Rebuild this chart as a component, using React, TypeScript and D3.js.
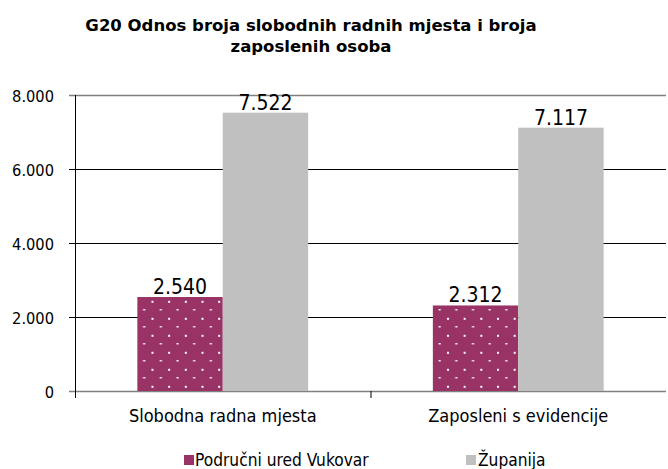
import React from 'react';
import { scaleBand, scaleLinear } from 'd3';

const categories = ['Slobodna radna mjesta', 'Zaposleni s evidencije'];
const seriesNames = ['Područni ured Vukovar', 'Županija'];
const vukovar = [2540, 2312];
const zupanija = [7522, 7117];
const yTicks = [0, 2000, 4000, 6000, 8000];

const W = 668;
const H = 469;
const margin = { top: 95, right: 2, bottom: 78, left: 75 };
const font = '"DejaVu Sans Condensed", "DejaVu Sans", sans-serif';
const purple = '#993366';
const gray = '#c0c0c0';

const fmt = (v: number) => v.toLocaleString('de-DE');

export default function App() {
  const innerW = W - margin.left - margin.right;
  const innerH = H - margin.top - margin.bottom;

  const x0 = scaleBand().domain(categories).range([0, innerW]).padding(0);
  const x1 = scaleBand().domain(seriesNames).range([0, x0.bandwidth()]).paddingInner(0).paddingOuter(0.73);
  const y = scaleLinear().domain([0, 8000]).range([innerH, 0]);

  const series = [
    { name: seriesNames[0], values: vukovar, fill: 'url(#dots)' },
    { name: seriesNames[1], values: zupanija, fill: gray },
  ];

  return (
    <div style={{ position: 'absolute', left: 0, top: 0 }}>
      <svg width={W} height={H} style={{ display: 'block', background: '#fff' }}>
        <defs>
          <pattern id="dots" width={16.67} height={17} patternUnits="userSpaceOnUse">
            <rect width={16.67} height={17} fill={purple} />
            <rect x={1.5} y={10} width={2} height={1.5} fill="#fff" />
            <rect x={9.8} y={1.8} width={2} height={2} fill="#fff" />
          </pattern>
        </defs>

        {/* title */}
        <g fontFamily='"DejaVu Sans", sans-serif' fontWeight="bold" fontSize={16.5} fill="#000" textAnchor="middle">
          <text x={311} y={31}>G20 Odnos broja slobodnih radnih mjesta i broja</text>
          <text x={311} y={52}>zaposlenih osoba</text>
        </g>

        <g transform={`translate(${margin.left},${margin.top})`}>
          {/* gridlines */}
          {yTicks.map(t => {
            const edge = t === 0 || t === 8000;
            return (
              <line
                key={t}
                x1={-6}
                x2={innerW}
                y1={Math.round(y(t)) + 0.5}
                y2={Math.round(y(t)) + 0.5}
                stroke={edge ? '#808080' : '#000'}
                strokeWidth={edge ? 1.6 : 1}
              />
            );
          })}
          {yTicks.map(t => (
            <text key={'l' + t} x={-21} y={y(t) + 6.5} textAnchor="end" fontFamily={font} fontSize={16.3} fill="#000">
              {fmt(t)}
            </text>
          ))}

          {/* bars */}
          {categories.map((c, i) => (
            <g key={c} transform={`translate(${x0(c)},0)`}>
              {series.map(s => (
                <g key={s.name}>
                  <rect
                    x={x1(s.name)}
                    y={y(s.values[i])}
                    width={x1.bandwidth()}
                    height={innerH - y(s.values[i])}
                    fill={s.fill}
                  />
                  <text
                    x={(x1(s.name) || 0) + x1.bandwidth() / 2}
                    y={y(s.values[i]) - 3}
                    textAnchor="middle"
                    fontFamily={font}
                    fontSize={21}
                    fill="#000"
                  >
                    {fmt(s.values[i])}
                  </text>
                </g>
              ))}
              <text
                x={x0.bandwidth() / 2}
                y={innerH + 31}
                textAnchor="middle"
                fontFamily={font}
                fontSize={18}
                fill="#000"
              >
                {c}
              </text>
            </g>
          ))}

          {/* axes */}
          <line x1={0.5} x2={0.5} y1={0} y2={innerH + 7} stroke="#000" strokeWidth={1} />
          <line x1={x0.bandwidth() + 0.5} x2={x0.bandwidth() + 0.5} y1={innerH} y2={innerH + 7} stroke="#000" strokeWidth={1} />
        </g>

        {/* legend */}
        <g fontFamily={font} fontSize={17.2} fill="#000">
          <rect x={184} y={455} width={10} height={10} fill={purple} />
          <text x={195} y={466}>{seriesNames[0]}</text>
          <rect x={466} y={455} width={10} height={10} fill={gray} />
          <text x={478} y={466}>{seriesNames[1]}</text>
        </g>
      </svg>
    </div>
  );
}
